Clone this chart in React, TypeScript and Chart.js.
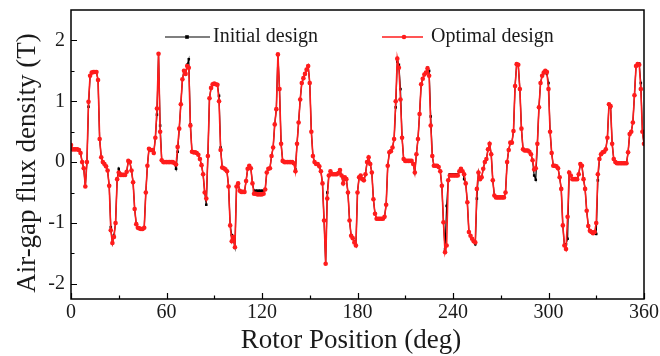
import React, { useEffect, useRef } from 'react';
import { Chart, registerables } from 'chart.js';

Chart.register(...registerables);

const FONT = "'Liberation Serif', 'Times New Roman', serif";

// Rotor position in degrees (one sample per degree)
const angles: number[] = Array.from({ length: 361 }, (_, i) => i);

const xTickValues = [0, 60, 120, 180, 240, 300, 360];
const yTickValues = [-2, -1, 0, 1, 2];

const seriesNames = ['Initial design', 'Optimal design'];

const optimalDesign = [
  0.28, 0.21, 0.21, 0.21, 0.21, 0.2, 0.15, 0.0, -0.1, -0.4,
  0.0, 0.99, 1.42, 1.47, 1.48, 1.48, 1.48, 1.35, 0.38, 0.08,
  0.0, -0.03, -0.07, -0.14, -0.39, -1.12, -1.33, -1.23, -1.0, -0.28,
  -0.17, -0.21, -0.21, -0.21, -0.21, -0.16, 0.02, 0.0, -0.14, -0.33,
  -0.77, -1.02, -1.08, -1.09, -1.1, -1.1, -1.08, -0.5, -0.06, 0.22,
  0.2, 0.2, 0.15, 0.4, 0.88, 1.78, 0.5, 0.03, 0.0, 0.0,
  0.0, 0.0, 0.0, 0.0, 0.0, -0.02, -0.04, 0.25, 0.55, 0.95,
  1.36, 1.5, 1.45, 1.58, 1.55, 0.6, 0.17, 0.16, 0.16, 0.15,
  0.12, 0.05, -0.05, -0.2, -0.5, -0.6, 0.1, 1.05, 1.22, 1.28,
  1.29, 1.28, 1.27, 1.0, 0.2, -0.09, -0.1, -0.12, -0.15, -0.4,
  -1.04, -1.3, -1.23, -1.4, -0.4, -0.35, -0.47, -0.49, -0.49, -0.49,
  -0.31, -0.11, -0.06, -0.1, -0.35, -0.52, -0.52, -0.53, -0.53, -0.53,
  -0.53, -0.52, -0.45, -0.17, -0.11, -0.1, 0.1, 0.24, 0.62, 0.87,
  1.77, 1.2, 0.3, 0.02, 0.0, 0.0, 0.0, 0.0, 0.0, 0.0,
  -0.02, -0.15, 0.3, 0.65, 1.03, 1.3, 1.38, 1.45, 1.52, 1.58,
  1.3, 0.5, 0.1, 0.0, -0.03, -0.03, -0.07, -0.15, -0.35, -0.96,
  -1.67, -0.6, -0.22, -0.15, -0.2, -0.2, -0.2, -0.2, -0.18, -0.13,
  -0.22, -0.35, -0.25, -0.28, -0.5, -0.96, -1.21, -1.25, -1.32, -1.37,
  -0.5, -0.25, -0.22, -0.28, -0.3, -0.2, 0.0, 0.08, -0.03, -0.17,
  -0.61, -0.85, -0.93, -0.93, -0.93, -0.93, -0.93, -0.9, -0.7, -0.06,
  0.16, 0.18, 0.24, 0.38, 1.0, 1.7, 1.55, 1.03, 0.4, 0.05,
  0.02, 0.02, 0.02, 0.02, 0.02, -0.03, -0.17, 0.13, 0.38, 0.79,
  1.28, 1.37, 1.44, 1.47, 1.54, 1.42, 0.6, 0.1, -0.06, -0.06,
  -0.06, -0.08, -0.15, -0.39, -0.99, -1.48, -1.37, -0.3, -0.22, -0.22,
  -0.22, -0.22, -0.22, -0.22, -0.15, -0.11, -0.15, -0.2, -0.35, -0.66,
  -1.15, -1.21, -1.26, -1.3, -1.32, -0.44, -0.17, -0.28, -0.25, -0.11,
  0.0, 0.05, 0.21, 0.3, 0.13, -0.3, -0.55, -0.58, -0.58, -0.58,
  -0.58, -0.58, -0.58, -0.5, 0.0, 0.2, 0.32, 0.32, 0.51, 1.25,
  1.61, 1.6, 1.2, 0.55, 0.21, 0.19, 0.19, 0.19, 0.17, 0.13,
  0.03, -0.12, -0.1, 0.3, 0.9, 1.3, 1.42, 1.47, 1.5, 1.48,
  1.2, 0.5, 0.15, -0.06, -0.06, -0.07, -0.1, -0.25, -0.44, -1.04,
  -1.37, -1.43, -0.9, -0.17, -0.22, -0.28, -0.28, -0.28, -0.28, -0.2,
  -0.03, -0.06, -0.28, -0.44, -0.8, -1.05, -1.13, -1.15, -1.17, -1.15,
  -1.0, -0.2, 0.05, 0.13, 0.16, 0.17, 0.21, 0.4, 0.95, 0.92,
  0.3, 0.05, 0.0, -0.02, -0.02, -0.02, -0.02, -0.02, -0.02, -0.02,
  0.16, 0.46, 0.5, 0.65, 1.1, 1.58, 1.61, 1.6, 1.2, 0.5,
  0.3,
];

const initialDesign = [
  0.28, 0.21, 0.21, 0.21, 0.21, 0.2, 0.15, 0.0, -0.1, -0.4,
  0.0, 0.91, 1.42, 1.47, 1.48, 1.48, 1.48, 1.35, 0.38, 0.08,
  0.0, -0.03, -0.07, -0.14, -0.39, -1.07, -1.33, -1.2, -1.0, -0.28,
  -0.11, -0.19, -0.21, -0.21, -0.21, -0.16, 0.02, 0.0, -0.14, -0.33,
  -0.77, -1.02, -1.08, -1.09, -1.1, -1.1, -1.08, -0.5, -0.06, 0.22,
  0.2, 0.2, 0.15, 0.4, 0.78, 1.78, 0.6, 0.03, 0.0, 0.0,
  0.0, 0.0, 0.0, 0.0, 0.0, -0.02, -0.11, 0.17, 0.55, 0.95,
  1.36, 1.5, 1.45, 1.6, 1.69, 0.62, 0.17, 0.16, 0.16, 0.15,
  0.12, 0.05, -0.05, -0.2, -0.5, -0.7, 0.1, 1.05, 1.22, 1.28,
  1.29, 1.28, 1.27, 1.09, 0.24, -0.09, -0.1, -0.12, -0.15, -0.4,
  -1.04, -1.2, -1.28, -1.4, -0.4, -0.35, -0.47, -0.49, -0.49, -0.49,
  -0.31, -0.11, -0.06, -0.1, -0.35, -0.47, -0.47, -0.47, -0.47, -0.47,
  -0.47, -0.47, -0.45, -0.17, -0.11, -0.1, 0.1, 0.24, 0.62, 0.87,
  1.77, 1.2, 0.3, 0.02, 0.0, 0.0, 0.0, 0.0, 0.0, 0.0,
  -0.02, -0.12, 0.3, 0.65, 1.03, 1.3, 1.38, 1.45, 1.52, 1.58,
  1.3, 0.5, 0.1, 0.0, -0.03, -0.03, -0.07, -0.15, -0.35, -0.96,
  -1.67, -0.5, -0.22, -0.15, -0.2, -0.2, -0.2, -0.2, -0.18, -0.13,
  -0.22, -0.35, -0.25, -0.28, -0.5, -0.96, -1.21, -1.25, -1.3, -1.37,
  -0.5, -0.25, -0.22, -0.28, -0.3, -0.2, 0.0, 0.08, -0.03, -0.17,
  -0.61, -0.85, -0.93, -0.93, -0.93, -0.93, -0.93, -0.9, -0.7, -0.06,
  0.16, 0.18, 0.24, 0.38, 0.9, 1.65, 1.6, 1.2, 0.4, 0.05,
  0.02, 0.02, 0.02, 0.02, 0.02, -0.03, -0.17, 0.13, 0.38, 0.79,
  1.28, 1.37, 1.44, 1.47, 1.55, 1.5, 0.75, 0.1, -0.06, -0.06,
  -0.06, -0.08, -0.15, -0.39, -0.99, -1.43, -0.72, -0.3, -0.2, -0.2,
  -0.2, -0.2, -0.2, -0.2, -0.15, -0.11, -0.15, -0.28, -0.35, -0.66,
  -1.15, -1.21, -1.26, -1.3, -1.35, -0.6, -0.17, -0.28, -0.25, -0.11,
  0.0, 0.05, 0.21, 0.3, 0.13, -0.3, -0.55, -0.58, -0.58, -0.58,
  -0.58, -0.58, -0.58, -0.5, 0.0, 0.2, 0.32, 0.32, 0.51, 1.25,
  1.61, 1.6, 1.2, 0.55, 0.21, 0.19, 0.19, 0.19, 0.17, 0.13,
  0.03, -0.22, -0.29, 0.3, 0.9, 1.3, 1.42, 1.47, 1.5, 1.45,
  1.3, 0.5, 0.15, -0.06, -0.06, -0.07, -0.1, -0.25, -0.44, -1.04,
  -1.37, -1.35, -1.26, -0.17, -0.22, -0.28, -0.28, -0.28, -0.28, -0.2,
  -0.03, -0.06, -0.28, -0.44, -0.8, -1.05, -1.13, -1.15, -1.17, -1.15,
  -1.18, -0.3, 0.05, 0.13, 0.16, 0.17, 0.21, 0.4, 0.95, 0.9,
  0.3, 0.05, 0.0, -0.02, -0.02, -0.02, -0.02, -0.02, -0.02, -0.02,
  0.16, 0.46, 0.5, 0.65, 1.1, 1.58, 1.61, 1.62, 1.3, 0.5,
  0.3,
];

const RED = 'rgb(255,28,28)';
const BLACK = '#000000';

const framePlugin = {
  id: 'frameTicksLegend',
  afterDatasetsDraw(chart: any) {
    const { ctx, chartArea, scales } = chart;
    const { left, right, top, bottom } = chartArea;
    const x = scales.x;
    const y = scales.y;
    ctx.save();
    ctx.strokeStyle = '#000';
    ctx.lineWidth = 1.5;
    ctx.strokeRect(left, top, right - left, bottom - top);
    ctx.lineWidth = 1.2;
    ctx.beginPath();
    for (let v = 0; v <= 360; v += 30) {
      const px = Math.round(x.getPixelForValue(v)) + 0.5;
      const len = v % 60 === 0 ? 6 : 3.5;
      ctx.moveTo(px, bottom);
      ctx.lineTo(px, bottom - len);
    }
    for (let k = -4; k <= 4; k++) {
      const v = k / 2;
      const py = Math.round(y.getPixelForValue(v)) + 0.5;
      const len = k % 2 === 0 ? 6 : 3.5;
      ctx.moveTo(left, py);
      ctx.lineTo(left + len, py);
    }
    ctx.stroke();

    // Legend
    const ly = 37;
    const drawEntry = (x0: number, x1: number, mx: number, tx: number, color: string, lw: number, square: boolean, label: string) => {
      ctx.strokeStyle = color;
      ctx.lineWidth = lw;
      ctx.beginPath();
      ctx.moveTo(x0, ly);
      ctx.lineTo(x1, ly);
      ctx.stroke();
      ctx.fillStyle = color;
      if (square) {
        ctx.fillRect(mx - 1.8, ly - 1.8, 3.6, 3.6);
      } else {
        ctx.beginPath();
        ctx.arc(mx, ly, 2.3, 0, Math.PI * 2);
        ctx.fill();
      }
      ctx.fillStyle = '#1a1a1a';
      ctx.font = `20px ${FONT}`;
      ctx.textAlign = 'left';
      ctx.textBaseline = 'middle';
      ctx.fillText(label, tx, ly);
    };
    drawEntry(165, 210, 187, 213, BLACK, 1.2, true, seriesNames[0]);
    drawEntry(382, 423, 404, 431, RED, 1.6, false, seriesNames[1]);

    // Axis titles
    ctx.fillStyle = '#1a1a1a';
    ctx.font = `27px ${FONT}`;
    ctx.textAlign = 'center';
    ctx.textBaseline = 'middle';
    ctx.fillText('Rotor Position (deg)', 351, 341);
    ctx.save();
    ctx.translate(28, 163);
    ctx.rotate(-Math.PI / 2);
    ctx.fillText('Air-gap flux density (T)', 0, 0);
    ctx.restore();
    ctx.restore();
  },
};

export default function App() {
  const canvasRef = useRef<HTMLCanvasElement | null>(null);

  useEffect(() => {
    if (!canvasRef.current) return;
    const chart = new Chart(canvasRef.current, {
      type: 'line',
      data: {
        labels: angles,
        datasets: [
          {
            label: seriesNames[0],
            data: initialDesign,
            borderColor: BLACK,
            backgroundColor: BLACK,
            borderWidth: 1.2,
            pointStyle: 'rect',
            pointRadius: 1.8,
            pointBorderWidth: 0,
            pointBackgroundColor: BLACK,
            tension: 0,
            order: 2,
          },
          {
            label: seriesNames[1],
            data: optimalDesign,
            borderColor: RED,
            backgroundColor: RED,
            borderWidth: 1.6,
            pointStyle: 'circle',
            pointRadius: 2.3,
            pointBorderWidth: 0,
            pointBackgroundColor: RED,
            tension: 0,
            order: 1,
          },
        ],
      },
      options: {
        animation: false,
        responsive: false,
        maintainAspectRatio: false,
        layout: { padding: { top: 10, right: 16, left: 0, bottom: 0 } },
        plugins: {
          legend: { display: false },
          tooltip: { enabled: false },
          title: { display: false },
        },
        scales: {
          x: {
            type: 'linear',
            min: 0,
            max: 360,
            afterFit: (s: any) => { s.height = 57; s.paddingLeft = 0; s.paddingRight = 0; },
            grid: { display: false, drawTicks: false },
            border: { display: false },
            afterBuildTicks: (s: any) => { s.ticks = xTickValues.map((v) => ({ value: v })); },
            ticks: {
              padding: 2,
              color: '#1a1a1a',
              font: { family: FONT, size: 20 },
              maxRotation: 0,
              autoSkip: false,
            },
          },
          y: {
            type: 'linear',
            min: -2.25,
            max: 2.5,
            afterFit: (s: any) => { s.width = 71; s.paddingTop = 0; s.paddingBottom = 0; },
            grid: { display: false, drawTicks: false },
            border: { display: false },
            afterBuildTicks: (s: any) => { s.ticks = yTickValues.map((v) => ({ value: v })); },
            ticks: {
              padding: 6,
              color: '#1a1a1a',
              font: { family: FONT, size: 20 },
            },
          },
        },
      },
      plugins: [framePlugin],
    });
    return () => chart.destroy();
  }, []);

  return (
    <div style={{ position: 'fixed', left: 0, top: 0, width: 660, height: 356, background: '#fff' }}>
      <canvas ref={canvasRef} width={660} height={356} />
    </div>
  );
}
